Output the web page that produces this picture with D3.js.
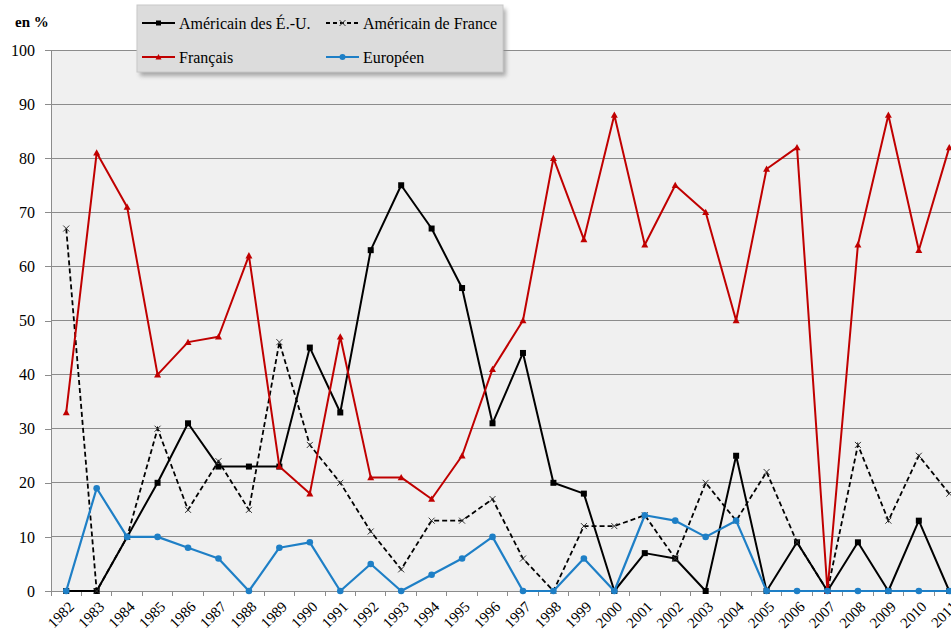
<!DOCTYPE html>
<html><head><meta charset="utf-8">
<script src="https://cdn.jsdelivr.net/npm/d3@7"></script>
<style>
html,body{margin:0;padding:0;background:#fff;}
svg{display:block;}
text{font-family:"Liberation Serif","Times New Roman",serif;fill:#000;}
</style></head>
<body>
<script>
const years = ["1982","1983","1984","1985","1986","1987","1988","1989","1990","1991","1992","1993","1994","1995","1996","1997","1998","1999","2000","2001","2002","2003","2004","2005","2006","2007","2008","2009","2010","2011"];
const americainEU = [0,0,10,20,31,23,23,23,45,33,63,75,67,56,31,44,20,18,0,7,6,0,25,0,9,0,9,0,13,0];
const americainFR = [67,0,10,30,15,24,15,46,27,20,11,4,13,13,17,6,0,12,12,14,6,20,13,22,9,0,27,13,25,18];
const francais = [33,81,71,40,46,47,62,23,18,47,21,21,17,25,41,50,80,65,88,64,75,70,50,78,82,0,64,88,63,82];
const europeen = [0,19,10,10,8,6,0,8,9,0,5,0,3,6,10,0,0,6,0,14,13,10,13,0,0,0,0,0,0,0];
const yTicks = [0,10,20,30,40,50,60,70,80,90,100];
const seriesNames = ["Américain des É.-U.","Américain de France","Français","Européen"];

const W = 951, H = 634;
const pLeft = 51, pTop = 50, pBottom = 591;
const bandW = 30.45;

const svg = d3.select("body").append("svg").attr("width", W).attr("height", H);

const x = d3.scaleBand().domain(years).range([pLeft, pLeft + bandW * years.length]).paddingInner(0).paddingOuter(0);
const y = d3.scaleLinear().domain([0, 100]).range([pBottom, pTop]);
const cx = d => x(d) + x.bandwidth() / 2;

// plot background
svg.append("rect").attr("x", pLeft).attr("y", pTop)
  .attr("width", x.range()[1] - pLeft).attr("height", pBottom - pTop)
  .attr("fill", "#f0f0f0");

// gridlines
svg.append("g").selectAll("line").data(yTicks).join("line")
  .attr("x1", pLeft).attr("x2", x.range()[1])
  .attr("y1", d => y(d)).attr("y2", d => y(d))
  .attr("stroke", "#8c8c8c").attr("stroke-width", 1).attr("shape-rendering", "crispEdges");

// y axis
const yAxis = d3.axisLeft(y).tickValues(yTicks).tickSize(6).tickPadding(10).tickFormat(d3.format("d"));
const gy = svg.append("g").attr("transform", `translate(${pLeft},0)`).call(yAxis);
gy.select(".domain").attr("stroke", "#8c8c8c").attr("shape-rendering", "crispEdges");
gy.selectAll(".tick line").attr("stroke", "#8c8c8c").attr("shape-rendering", "crispEdges");
gy.selectAll(".tick text").style("font-family", "'Liberation Serif',serif").style("font-size", "16px").attr("fill", "#000");

// x axis: ticks at band boundaries
const boundaries = years.map(d => x(d)).concat([x.range()[1]]);
svg.append("g").selectAll("line").data(boundaries).join("line")
  .attr("x1", d => d).attr("x2", d => d)
  .attr("y1", pBottom).attr("y2", pBottom + 5)
  .attr("stroke", "#8c8c8c").attr("shape-rendering", "crispEdges");
svg.append("g").selectAll("text").data(years).join("text")
  .attr("transform", d => `translate(${cx(d) + 5},${pBottom + 13}) rotate(-45)`)
  .attr("text-anchor", "end")
  .attr("dy", "0.35em")
  .style("font-size", "15px")
  .text(d => d);

// unit label
svg.append("text").attr("x", 15).attr("y", 27).style("font-size", "15px").style("font-weight", "bold").text("en %");

const line = d3.line().x((d, i) => cx(years[i])).y(d => y(d));

function drawSquares(g, data, color, s) {
  g.selectAll("rect.m").data(data).join("rect").attr("class", "m")
    .attr("x", (d, i) => cx(years[i]) - s / 2).attr("y", d => y(d) - s / 2)
    .attr("width", s).attr("height", s).attr("fill", color);
}
function drawX(g, data, color, s) {
  g.selectAll("path.m").data(data).join("path").attr("class", "m")
    .attr("d", (d, i) => { const px = cx(years[i]), py = y(d); return `M${px - s},${py - s}L${px + s},${py + s}M${px - s},${py + s}L${px + s},${py - s}`; })
    .attr("stroke", color).attr("stroke-width", 1).attr("fill", "none");
}
function drawTri(g, data, color, s) {
  g.selectAll("path.m").data(data).join("path").attr("class", "m")
    .attr("d", (d, i) => { const px = cx(years[i]), py = y(d); return `M${px},${py - s}L${px + s},${py + s * 0.8}L${px - s},${py + s * 0.8}Z`; })
    .attr("fill", color);
}
function drawCircles(g, data, color, r) {
  g.selectAll("circle.m").data(data).join("circle").attr("class", "m")
    .attr("cx", (d, i) => cx(years[i])).attr("cy", d => y(d)).attr("r", r).attr("fill", color);
}

const BLACK = "#000000", RED = "#c00000", BLUE = "#1e7fc6";

const g1 = svg.append("g");
g1.append("path").datum(americainEU).attr("d", line).attr("fill", "none").attr("stroke", BLACK).attr("stroke-width", 2).attr("stroke-linejoin", "round");
drawSquares(g1, americainEU, BLACK, 6);

const g2 = svg.append("g");
g2.append("path").datum(americainFR).attr("d", line).attr("fill", "none").attr("stroke", BLACK).attr("stroke-width", 1.8).attr("stroke-dasharray", "5,3");
drawX(g2, americainFR, "#333", 3);

const g3 = svg.append("g");
g3.append("path").datum(francais).attr("d", line).attr("fill", "none").attr("stroke", RED).attr("stroke-width", 2).attr("stroke-linejoin", "round");
drawTri(g3, francais, RED, 3.5);

const g4 = svg.append("g");
g4.append("path").datum(europeen).attr("d", line).attr("fill", "none").attr("stroke", BLUE).attr("stroke-width", 2.2).attr("stroke-linejoin", "round");
drawCircles(g4, europeen, BLUE, 3.3);

// legend
const defs = svg.append("defs");
defs.append("filter").attr("id", "blur").append("feGaussianBlur").attr("stdDeviation", 2);
const lg = svg.append("g");
lg.append("rect").attr("x", 140).attr("y", 9).attr("width", 366).attr("height", 67).attr("fill", "#888").attr("filter", "url(#blur)").attr("opacity", 0.7);
lg.append("rect").attr("x", 137).attr("y", 5).attr("width", 366).attr("height", 67).attr("fill", "#dcdcdc").attr("stroke", "#c8c8c8");

const legendItems = [
  {name: seriesNames[0], x: 142, y: 23, color: BLACK, dash: null, m: "sq"},
  {name: seriesNames[1], x: 326, y: 23, color: BLACK, dash: "4,3", m: "x"},
  {name: seriesNames[2], x: 142, y: 57, color: RED, dash: null, m: "tri"},
  {name: seriesNames[3], x: 326, y: 57, color: BLUE, dash: null, m: "c"}
];
legendItems.forEach(it => {
  const g = lg.append("g");
  g.append("line").attr("x1", it.x).attr("x2", it.x + 33).attr("y1", it.y).attr("y2", it.y)
    .attr("stroke", it.color).attr("stroke-width", 2).attr("stroke-dasharray", it.dash);
  const mx = it.x + 16.5, my = it.y;
  if (it.m === "sq") g.append("rect").attr("x", mx - 2.5).attr("y", my - 2.5).attr("width", 5).attr("height", 5).attr("fill", it.color);
  if (it.m === "x") g.append("path").attr("d", `M${mx - 3},${my - 3}L${mx + 3},${my + 3}M${mx - 3},${my + 3}L${mx + 3},${my - 3}`).attr("stroke", "#333").attr("stroke-width", 1);
  if (it.m === "tri") g.append("path").attr("d", `M${mx},${my - 3}L${mx + 3},${my + 2.5}L${mx - 3},${my + 2.5}Z`).attr("fill", it.color);
  if (it.m === "c") g.append("circle").attr("cx", mx).attr("cy", my).attr("r", 3).attr("fill", it.color);
  g.append("text").attr("x", it.x + 37).attr("y", it.y).attr("dy", "0.35em").style("font-size", "16px").text(it.name);
});
</script>
</body></html>
